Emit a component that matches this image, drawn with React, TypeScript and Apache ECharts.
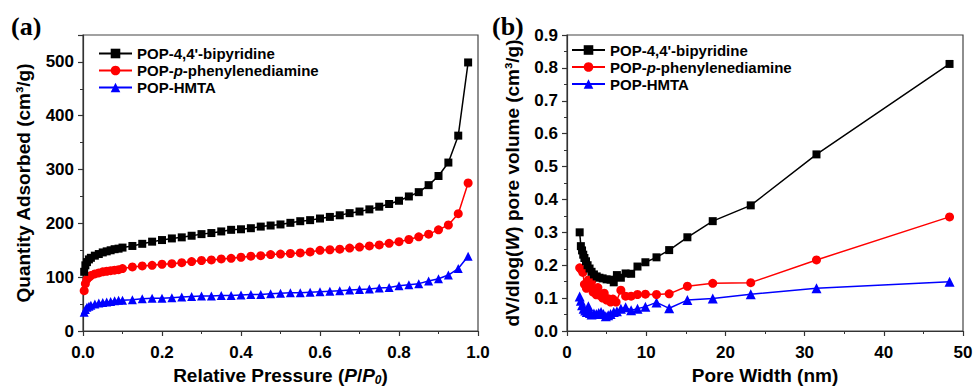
import React, { useEffect, useRef } from "react";
import * as echarts from "echarts";

// ---- Panel (a): N2 isotherms ----
const pressure = [0.003, 0.006, 0.01, 0.015, 0.02, 0.03, 0.04, 0.05, 0.06, 0.07, 0.08, 0.09, 0.1,
  0.125, 0.15, 0.175, 0.2, 0.225, 0.25, 0.275, 0.3, 0.325, 0.35, 0.375, 0.4, 0.425, 0.45, 0.475, 0.5,
  0.525, 0.55, 0.575, 0.6, 0.625, 0.65, 0.675, 0.7, 0.725, 0.75, 0.775, 0.8, 0.825, 0.85, 0.875, 0.9,
  0.925, 0.95, 0.975];
const adsBipy = [110, 122, 128, 133, 136, 140, 143, 146, 148, 150, 152, 153, 155,
  158, 162, 166, 169, 172, 174, 177, 180, 182, 185, 188, 189, 191, 194, 196, 198, 201, 204, 206, 209,
  212, 215, 219, 222, 226, 231, 236, 242, 250, 258, 271, 288, 313, 363, 499];
const adsPhen = [75, 88, 96, 100, 103, 106, 108, 110, 111, 112, 113, 114, 116,
  119, 121, 122, 124, 125, 127, 129, 131, 132, 134, 135, 137, 139, 140, 142, 143, 144, 145, 147, 150,
  151, 152, 154, 156, 158, 160, 163, 166, 170, 175, 180, 188, 197, 218, 275];
const adsHmta = [35, 40, 44, 46, 48, 50, 52, 53, 54, 55, 56, 57, 57,
  58, 60, 61, 61, 62, 63, 64, 65, 65, 66, 66, 67, 68, 68, 69, 70, 71, 71, 72, 73,
  74, 75, 76, 77, 78, 80, 81, 84, 86, 88, 93, 97, 104, 116, 139];

// ---- Panel (b): pore size distribution ----
const widthBipy = [1.6, 1.75, 1.9, 2.05, 2.2, 2.4, 2.6, 2.85, 3.1, 3.4, 3.75, 4.1, 4.5, 5.0, 5.5, 5.9,
  6.3, 6.8, 7.4, 8.1, 8.9, 9.9, 11.3, 12.9, 15.2, 18.4, 23.2, 31.5, 48.3];
const poreBipy = [0.30, 0.258, 0.245, 0.232, 0.222, 0.212, 0.200, 0.190, 0.180, 0.172, 0.166, 0.162,
  0.160, 0.157, 0.156, 0.148, 0.170, 0.162, 0.175, 0.174, 0.196, 0.209, 0.224, 0.246, 0.285, 0.334,
  0.382, 0.537, 0.812];
const widthPhen = [1.6, 1.8, 2.0, 2.2, 2.45, 2.7, 2.9, 3.1, 3.3, 3.5, 3.7, 3.9, 4.2, 4.5, 4.7, 5.0,
  5.2, 5.5, 5.8, 6.2, 6.8, 7.4, 8.1, 8.9, 9.9, 11.3, 12.9, 15.2, 18.4, 23.2, 31.5, 48.3];
const porePhen = [0.192, 0.187, 0.178, 0.142, 0.130, 0.155, 0.133, 0.150, 0.118, 0.125, 0.110, 0.132,
  0.108, 0.100, 0.115, 0.094, 0.098, 0.088, 0.097, 0.088, 0.124, 0.106, 0.106, 0.111, 0.112, 0.111,
  0.113, 0.136, 0.145, 0.147, 0.216, 0.347];
const widthHmta = [1.6, 1.75, 1.9, 2.1, 2.3, 2.5, 2.7, 2.9, 3.1, 3.4, 3.7, 4.0, 4.3, 4.6, 4.9, 5.2,
  5.5, 5.9, 6.3, 6.8, 7.4, 8.1, 8.9, 9.9, 11.3, 12.9, 15.2, 18.4, 23.2, 31.5, 48.3];
const poreHmta = [0.105, 0.092, 0.078, 0.068, 0.062, 0.058, 0.075, 0.055, 0.050, 0.053, 0.052, 0.055,
  0.058, 0.052, 0.045, 0.048, 0.052, 0.058, 0.060, 0.068, 0.072, 0.063, 0.068, 0.074, 0.087, 0.069,
  0.094, 0.099, 0.112, 0.130, 0.150];

const seriesNames = ["POP-4,4'-bipyridine", "POP-p-phenylenediamine", "POP-HMTA"];
const seriesColors = ["#000000", "#ff0000", "#0000ff"];
const seriesSymbols = ["rect", "circle", "triangle"];

const FONT = "Liberation Sans, Arial, sans-serif";

function zip(xs: number[], ys: number[]) {
  return xs.map((x, i) => [x, ys[i]]);
}

export default function App() {
  const ref = useRef<HTMLDivElement>(null);
  useEffect(() => {
    if (!ref.current) return;
    const chart = echarts.init(ref.current, null, { renderer: "svg" });

    const titleStyle = {
      color: "#000",
      fontFamily: FONT,
      fontWeight: "bold",
      fontSize: 19,
    };

    const axisCommon = {
      axisLine: { show: true, onZero: false, lineStyle: { color: "#333", width: 1.2 } },
      axisTick: { show: true, inside: false, length: 5, lineStyle: { color: "#333", width: 1.2 } },
      minorTick: { show: true, splitNumber: 2, length: 3, lineStyle: { color: "#333", width: 1 } },
      splitLine: { show: false },
      axisLabel: {
        color: "#000",
        fontFamily: FONT,
        fontWeight: "bold",
        fontSize: 17,
        margin: 9,
        formatter: (v: number) => v.toFixed(1),
      },
      nameLocation: "middle",
      nameTextStyle: titleStyle,
    };

    const richTitle = {
      n: { fontFamily: FONT, fontWeight: "bold", fontSize: 19, color: "#000", lineHeight: 22 },
      i: { fontFamily: FONT, fontWeight: "bold", fontStyle: "italic", fontSize: 19, color: "#000", lineHeight: 22 },
      sub: { fontFamily: FONT, fontWeight: "bold", fontStyle: "italic", fontSize: 12, color: "#000", lineHeight: 12, verticalAlign: "bottom" },
    };

    const legendRich = {
      b: { fontFamily: FONT, fontWeight: "bold", fontSize: 15, color: "#000", lineHeight: 17 },
      i: { fontFamily: FONT, fontWeight: "bold", fontStyle: "italic", fontSize: 15, color: "#000", lineHeight: 17 },
    };
    const legendFormatter = (name: string) =>
      name === "POP-p-phenylenediamine"
        ? "{b|POP-}{i|p}{b|-phenylenediamine}"
        : "{b|" + name + "}";

    const leftData = [adsBipy, adsPhen, adsHmta];
    const rightX = [widthBipy, widthPhen, widthHmta];
    const rightY = [poreBipy, porePhen, poreHmta];
    const leftSizes = [8, 9, 9];
    const rightSizes = [8, 9, 10];

    const series: any[] = [];
    for (let k = 0; k < 3; k++) {
      series.push({
        type: "line",
        name: seriesNames[k],
        xAxisIndex: 0,
        yAxisIndex: 0,
        data: zip(pressure, leftData[k]),
        symbol: seriesSymbols[k],
        symbolSize: leftSizes[k],
        showAllSymbol: true,
        itemStyle: { color: seriesColors[k] },
        lineStyle: { color: seriesColors[k], width: 1.5 },
        z: 3 - k,
      });
    }
    for (let k = 0; k < 3; k++) {
      series.push({
        type: "line",
        name: seriesNames[k],
        xAxisIndex: 1,
        yAxisIndex: 1,
        data: zip(rightX[k], rightY[k]),
        symbol: seriesSymbols[k],
        symbolSize: rightSizes[k],
        showAllSymbol: true,
        itemStyle: { color: seriesColors[k] },
        lineStyle: { color: seriesColors[k], width: 1.5 },
        z: 3 - k,
      });
    }

    const legendCommon = {
      data: seriesNames,
      orient: "vertical",
      padding: 0,
      itemWidth: 33,
      itemHeight: 12,
      itemGap: 2,
      selectedMode: false,
      formatter: legendFormatter,
      textStyle: { fontFamily: FONT, fontWeight: "bold", fontSize: 15, color: "#000", rich: legendRich },
    };

    const gridCommon = {
      top: 35,
      height: 296,
      show: true,
      borderColor: "#444",
      borderWidth: 1.2,
      containLabel: false,
      outerBoundsMode: "none",
    };

    chart.setOption({
      animation: false,
      backgroundColor: "#fff",
      grid: [
        { ...gridCommon, left: 83, width: 395 },
        { ...gridCommon, left: 567, width: 396 },
      ],
      xAxis: [
        {
          ...axisCommon,
          type: "value",
          gridIndex: 0,
          min: 0,
          max: 1,
          interval: 0.2,
          axisLabel: { ...axisCommon.axisLabel, margin: 13 },
          name: "{n|Relative Pressure (}{i|P}{n|/}{i|P}{sub|0}{n|)}",
          nameGap: 32,
          nameTextStyle: { ...titleStyle, rich: richTitle },
        },
        {
          ...axisCommon,
          type: "value",
          gridIndex: 1,
          min: 0,
          max: 50,
          interval: 10,
          axisLabel: { ...axisCommon.axisLabel, margin: 13, formatter: (v: number) => String(v) },
          name: "Pore Width (nm)",
          nameGap: 34,
        },
      ],
      yAxis: [
        {
          ...axisCommon,
          type: "value",
          gridIndex: 0,
          min: 0,
          max: 550,
          interval: 100,
          axisLabel: { ...axisCommon.axisLabel, showMaxLabel: false, formatter: (v: number) => String(v) },
          name: "Quantity Adsorbed (cm³/g)",
          nameGap: 50,
        },
        {
          ...axisCommon,
          type: "value",
          gridIndex: 1,
          min: 0,
          max: 0.9,
          interval: 0.1,
          name: "{n|dV/dlog(}{i|W}{n|) pore volume (cm³/g)}",
          nameGap: 44,
          nameTextStyle: { ...titleStyle, rich: richTitle },
        },
      ],
      legend: [
        { ...legendCommon, left: 98, top: 46 },
        { ...legendCommon, left: 571, top: 42.5 },
      ],
      graphic: [
        {
          type: "text",
          left: 11,
          top: 13,
          style: { text: "(a)", fontFamily: "Liberation Serif, Times New Roman, serif", fontWeight: "bold", fontSize: 26, fill: "#000" },
        },
        {
          type: "text",
          left: 492,
          top: 13,
          style: { text: "(b)", fontFamily: "Liberation Serif, Times New Roman, serif", fontWeight: "bold", fontSize: 26, fill: "#000" },
        },
      ],
      series,
    });

    return () => chart.dispose();
  }, []);

  return (
    <div
      ref={ref}
      style={{ position: "fixed", left: 0, top: 0, width: 973, height: 386, background: "#fff" }}
    />
  );
}
